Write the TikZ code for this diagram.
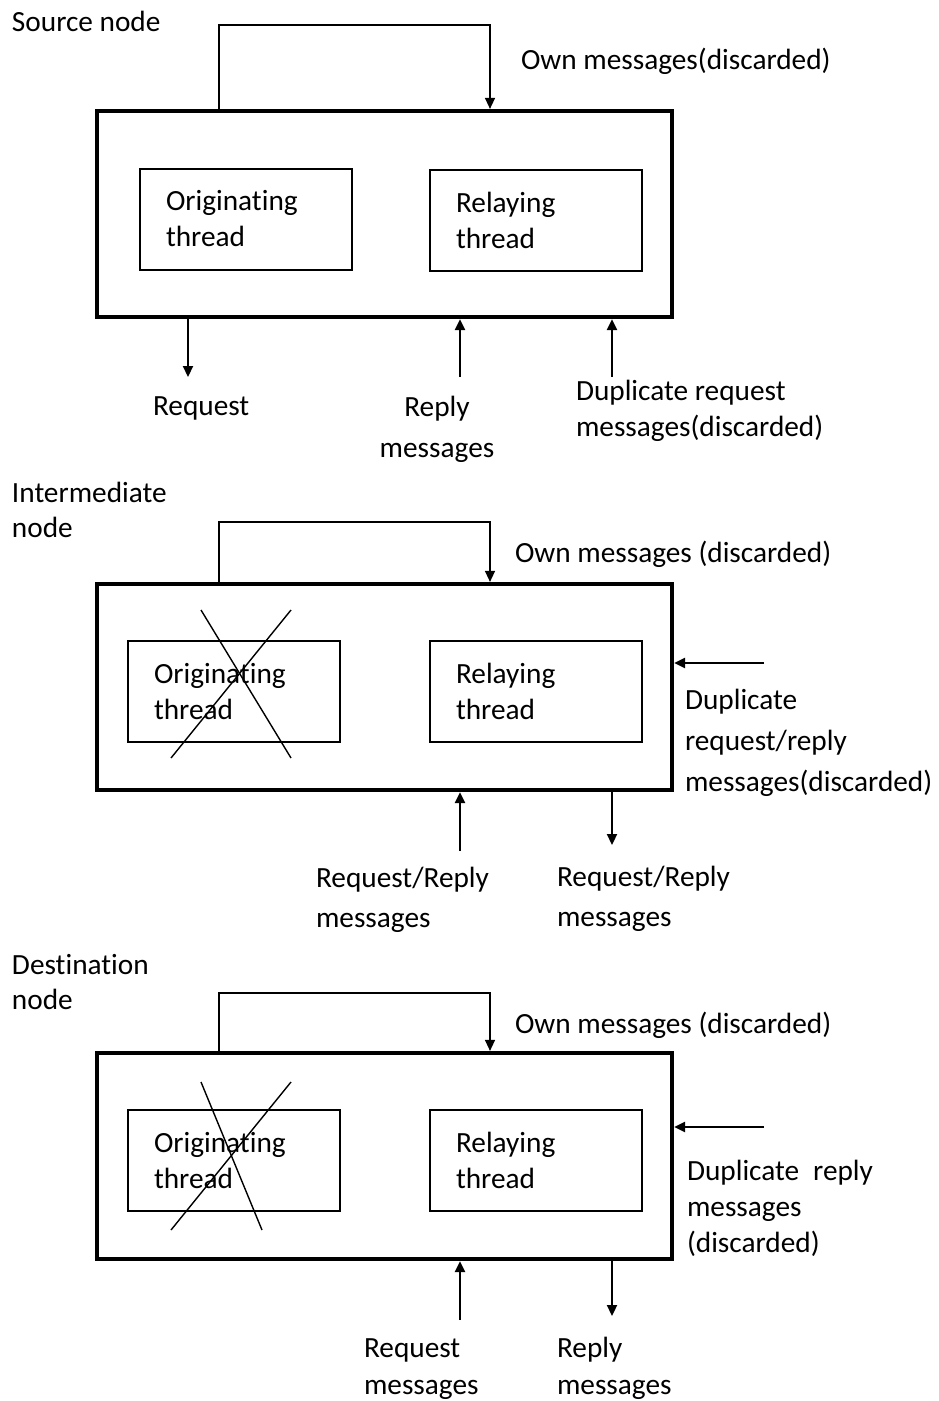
\documentclass[tikz,border=0pt]{standalone}
\usepackage{fontspec}
\setmainfont{Carlito}[RawFeature={-liga;-clig;-calt;-dlig}]
\usetikzlibrary{arrows.meta}
\begin{document}
\begin{tikzpicture}[x=1pt,y=-1pt,
  every node/.style={inner sep=0pt, outer sep=0pt},
  txt/.style={font=\fontsize{29.3}{36}\selectfont},
  % labels are placed by the baseline of their last line
  lbl/.style={txt, anchor=base west, align=left},
  clbl/.style={txt, anchor=base, align=center},
  nodebox/.style={draw, line width=4.2pt, outer sep=2.1pt, minimum width=575pt, minimum height=206pt},
  thread/.style={txt, draw, line width=2pt, outer sep=1pt, align=left, text width=160pt,
                 inner xsep=26pt, minimum height=101pt},
  tip/.style={-{Triangle[length=11pt,width=10pt]}},
  arr/.style={tip, line width=2.2pt},
  loop/.style={tip, line width=1.4pt},
  cross/.style={line width=1.4pt}]
\useasboundingbox (0,0) rectangle (939,1401);

% ---------------- Source node ----------------
\node[lbl] (srcT) at (12,31) {Source node};
\node[nodebox] (src) at (384.5,214) {};
\node[thread] (srcO) at (246,219) {Originating\\thread};
\node[thread] (srcR) at (536,220) {Relaying\\thread};
\coordinate (srcLa) at (219,25);
\coordinate (srcLb) at (490,25);
\draw[loop] (src.north -| srcLa) |- (srcLb) -- (src.north -| srcLb);
\node[lbl] (srcOwn) at (521,69) {Own messages(discarded)};
\coordinate (srcReq) at (188,377);
\coordinate (srcRep) at (460,377);
\coordinate (srcDup) at (612,377);
\draw[arr] (src.south -| srcReq) -- (srcReq);
\draw[arr] (srcRep) -- (src.south -| srcRep);
\draw[arr] (srcDup) -- (src.south -| srcDup);
\node[lbl] (srcReqL) at (153,415) {Request};
\node[clbl] (srcRepL) at (437,457) {Reply\\[5pt]messages};
\node[lbl] (srcDupL) at (576,436) {Duplicate request\\messages(discarded)};

% ---------------- Intermediate node ----------------
\node[lbl] (midT) at (12,537) {Intermediate\\[-1pt]node};
\node[nodebox] (mid) at (384.5,687) {};
\node[thread] (midO) at (234,691.5) {Originating\\thread};
\node[thread] (midR) at (536,691.5) {Relaying\\thread};
\coordinate (midXa) at (201,610);
\coordinate (midXb) at (291,758);
\coordinate (midXc) at (291,610);
\coordinate (midXd) at (171,758);
\draw[cross] (midXa) -- (midXb);
\draw[cross] (midXc) -- (midXd);
\coordinate (midLa) at (219,522);
\coordinate (midLb) at (490,522);
\draw[loop] (mid.north -| midLa) |- (midLb) -- (mid.north -| midLb);
\node[lbl] (midOwn) at (515,562) {Own messages (discarded)};
\coordinate (midDup) at (764,663);
\draw[arr] (midDup) -- (mid.east |- midDup);
\node[lbl] (midDupL) at (685,791) {Duplicate\\[5pt]request/reply\\[5pt]messages(discarded)};
\coordinate (midIn) at (460,851);
\coordinate (midOut) at (612,845);
\draw[arr] (midIn) -- (mid.south -| midIn);
\draw[arr] (mid.south -| midOut) -- (midOut);
\node[lbl] (midInL) at (316,927) {Request/Reply\\[4pt]messages};
\node[lbl] (midOutL) at (557,926) {Request/Reply\\[4pt]messages};

% ---------------- Destination node ----------------
\node[lbl] (dstT) at (12,1009) {Destination\\[-1pt]node};
\node[nodebox] (dst) at (384.5,1156) {};
\node[thread] (dstO) at (234,1160.5) {Originating\\thread};
\node[thread] (dstR) at (536,1160.5) {Relaying\\thread};
\coordinate (dstXa) at (201,1082);
\coordinate (dstXb) at (262,1230);
\coordinate (dstXc) at (291,1082);
\coordinate (dstXd) at (171,1230);
\draw[cross] (dstXa) -- (dstXb);
\draw[cross] (dstXc) -- (dstXd);
\coordinate (dstLa) at (219,993);
\coordinate (dstLb) at (490,993);
\draw[loop] (dst.north -| dstLa) |- (dstLb) -- (dst.north -| dstLb);
\node[lbl] (dstOwn) at (515,1033) {Own messages (discarded)};
\coordinate (dstDup) at (764,1127);
\draw[arr] (dstDup) -- (dst.east |- dstDup);
\node[lbl] (dstDupL) at (687,1252) {Duplicate\hspace{0.25em} reply\\messages\\(discarded)};
\coordinate (dstIn) at (460,1320);
\coordinate (dstOut) at (612,1316);
\draw[arr] (dstIn) -- (dst.south -| dstIn);
\draw[arr] (dst.south -| dstOut) -- (dstOut);
\node[lbl] (dstInL) at (364,1394) {Request\\[1pt]messages};
\node[lbl] (dstOutL) at (557,1394) {Reply\\[1pt]messages};
\end{tikzpicture}
\end{document}
